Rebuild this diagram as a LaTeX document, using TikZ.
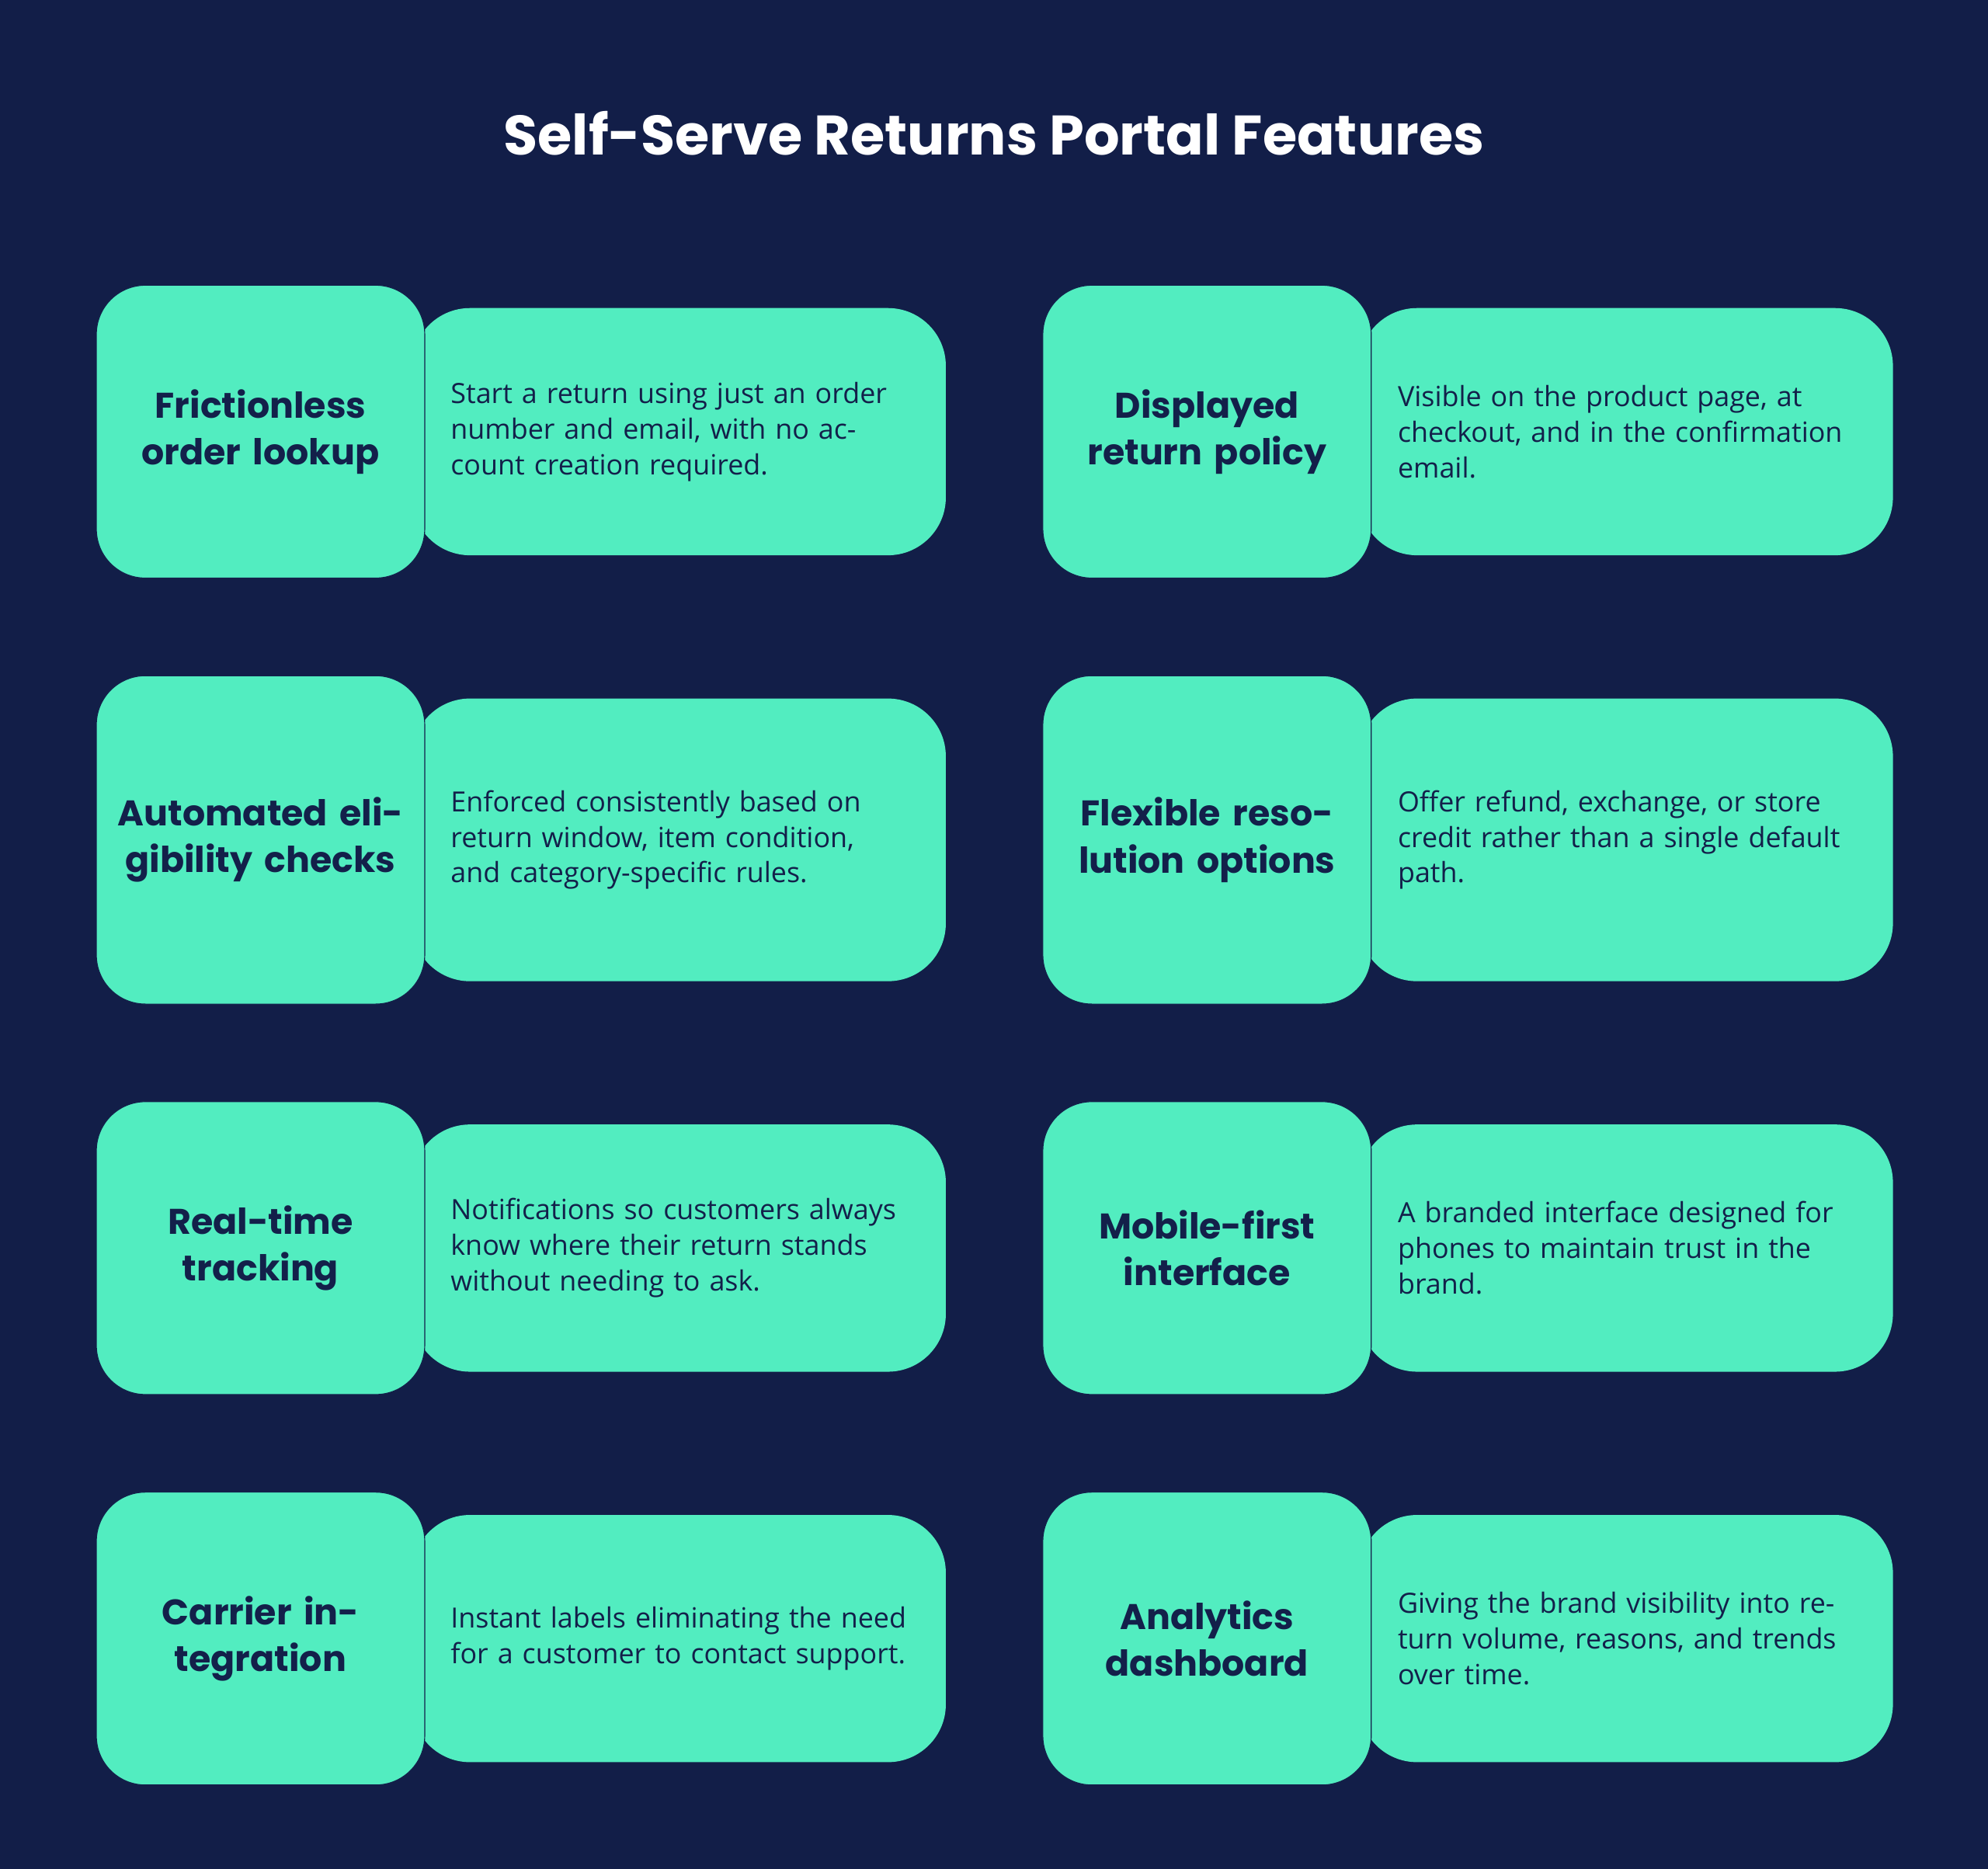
\documentclass[tikz,border=0pt]{standalone}
\usepackage{fontspec}
\setmainfont{Open Sans}
\newfontfamily\headfont{Poppins}
\usetikzlibrary{positioning}
\definecolor{bgcolor}{HTML}{121E48}
\definecolor{cardcolor}{HTML}{52EDC0}
\definecolor{inkcolor}{HTML}{13204A}

\begin{document}
\begin{tikzpicture}[
    feature/.style={draw=inkcolor, thin, fill=cardcolor, minimum width=5.18cm, minimum height=4.62cm, rounded corners=22pt, text width=4.6cm, align=center, font=\headfont\fontsize{16}{21}\selectfont\bfseries, text=inkcolor},
    detail/.style={fill=cardcolor, minimum width=8.42cm, minimum height=3.9cm, rounded corners=26pt, text width=7.2cm, align=left, font=\fontsize{12.5}{16}\selectfont, text=inkcolor},
    tall/.style={minimum height=5.18cm},
    deep/.style={minimum height=4.46cm}
]
    \fill[bgcolor] (0,0) rectangle (31.36,-29.48);
    \useasboundingbox (0,0) rectangle (31.36,-29.48);

    % Title
    \node[font=\headfont\fontsize{25}{30}\selectfont\bfseries, text=white] (title) at (15.68,-2.1) {Self-Serve Returns Portal Features};

    % Row 1
    \node[detail] (lookupd) at (10.71,-6.81) {Start a return using just an order number and email, with no account creation required.};
    \node[feature] (lookup) at (4.11,-6.81) {Frictionless order lookup};
    \node[detail] (policyd) at (25.65,-6.81) {Visible on the product page, at checkout, and in the confirmation email.};
    \node[feature] (policy) at (19.04,-6.81) {Displayed return policy};

    % Row 2
    \node[detail, deep] (checksd) at (10.71,-13.25) {Enforced consistently based on return window, item condition, and category-specific rules.};
    \node[feature, tall] (checks) at (4.11,-13.25) {Automated eligibility checks};
    \node[detail, deep] (optionsd) at (25.65,-13.25) {Offer refund, exchange, or store credit rather than a single default path.};
    \node[feature, tall] (options) at (19.04,-13.25) {Flexible resolution options};

    % Row 3
    \node[detail] (trackingd) at (10.71,-19.69) {Notifications so customers always know where their return stands without needing to ask.};
    \node[feature] (tracking) at (4.11,-19.69) {Real-time tracking};
    \node[detail] (mobiled) at (25.65,-19.69) {A branded interface designed for phones to maintain trust in the brand.};
    \node[feature] (mobile) at (19.04,-19.69) {Mobile-first interface};

    % Row 4
    \node[detail] (carrierd) at (10.71,-25.85) {Instant labels eliminating the need for a customer to contact support.};
    \node[feature] (carrier) at (4.11,-25.85) {Carrier integration};
    \node[detail] (analyticsd) at (25.65,-25.85) {Giving the brand visibility into return volume, reasons, and trends over time.};
    \node[feature] (analytics) at (19.04,-25.85) {Analytics dashboard};
\end{tikzpicture}
\end{document}
